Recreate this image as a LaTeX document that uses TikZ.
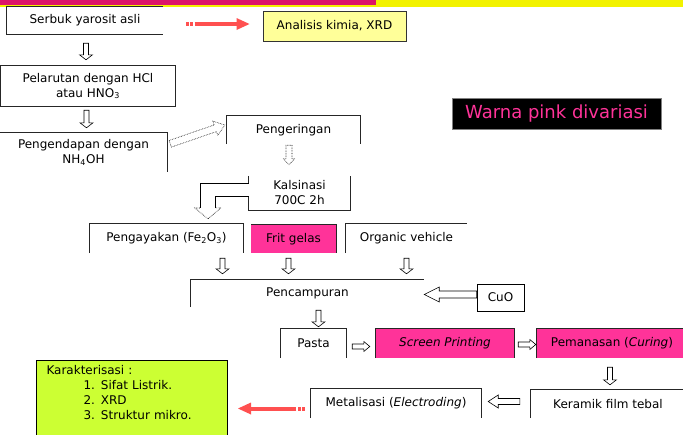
\documentclass[tikz,border=0pt]{standalone}
\usepackage{fontspec}
\setmainfont{DejaVu Sans}
\usetikzlibrary{calc,arrows.meta}
\definecolor{bandmag}{HTML}{DC1469}
\definecolor{bandyel}{HTML}{F2F200}
\definecolor{pinkbox}{HTML}{FF3399}
\definecolor{paleyel}{HTML}{FFFF99}
\definecolor{limebox}{HTML}{CCFF33}
\definecolor{redarr}{HTML}{FF5050}

\tikzset{
  arrshaft/.store in=\hsw, arrhead/.store in=\hhw, arrlen/.store in=\hhl,
  arrshaft=2.5, arrhead=6.5, arrlen=5,
}
% hollow block arrow between two points
\newcommand\hollowarrow[3][]{%
  \draw[draw=black, fill=white, line width=0.6pt, #1]
    let \p1=#2, \p2=#3, \n1={atan2(\y2-\y1,\x2-\x1)}, \n2={veclen(\x2-\x1,\y2-\y1)} in
    [shift={(\p1)}, rotate=\n1]
    (0,-\hsw) -- (\n2-\hhl,-\hsw) -- (\n2-\hhl,-\hhw) -- (\n2,0)
    -- (\n2-\hhl,\hhw) -- (\n2-\hhl,\hsw) -- (0,\hsw) -- cycle;}

\begin{document}
\begin{tikzpicture}[x=1pt,y=-1pt,
  lbl/.style={inner sep=0pt, align=center, font=\fontsize{12}{15}\selectfont},
  rim/.style={line width=0.8pt, black!85},
  redarrow/.style={redarr, line width=4pt,
    dash pattern=on 2.5pt off 1.5pt on 2.5pt off 2pt on 300pt off 1pt,
    -{Triangle[length=13pt,width=12pt,line width=0pt]}}]
  \useasboundingbox (0,0) rectangle (683,434);
  \fill[bandyel] (0,0) rectangle (683,6.5);
  \fill[bandmag] (0,0) rectangle (376,4.5);

  \node[lbl, minimum width=156, minimum height=27] (serbuk) at (85,20.5) {Serbuk yarosit asli};
  \node[lbl, draw=black!80, fill=paleyel, line width=1pt, minimum width=143, minimum height=30] (analisis) at (334.5,26) {Analisis kimia, XRD};
  \node[lbl, minimum width=175, minimum height=40] (pelarutan) at (88,86) {Pelarutan dengan HCl\\atau HNO\textsubscript{3}};
  \node[lbl, minimum width=167, minimum height=39] (pengendapan) at (83.5,152.5) {Pengendapan dengan\\NH\textsubscript{4}OH};
  \node[lbl, minimum width=133, minimum height=28] (pengeringan) at (293.5,130) {Pengeringan};
  \node[lbl, minimum width=101, minimum height=34] (kalsinasi) at (299.5,193) {Kalsinasi\\700C 2h};
  \node[lbl, minimum width=153, minimum height=29] (pengayakan) at (166.5,238.5) {Pengayakan (Fe\textsubscript{2}O\textsubscript{3})};
  \node[lbl, fill=pinkbox, minimum width=85, minimum height=28] (frit) at (293.5,239) {Frit gelas};
  \node[lbl, minimum width=121, minimum height=29] (organic) at (406.5,238.5) {Organic vehicle};
  \node[lbl, minimum width=233, minimum height=27] (pencampuran) at (307.5,293.5) {Pencampuran};
  \node[lbl, draw, line width=0.8pt, minimum width=47, minimum height=27] (cuo) at (500.5,297.5) {CuO};
  \node[lbl, minimum width=65, minimum height=29] (pasta) at (313.5,343.5) {Pasta};
  \node[lbl, fill=pinkbox, minimum width=138, minimum height=29] (screen) at (445,343.5) {\textit{Screen Printing}};
  \node[lbl, fill=pinkbox, minimum width=150, minimum height=29] (pemanasan) at (612,343.5) {Pemanasan (\textit{Curing})};
  \node[lbl, minimum width=154, minimum height=28] (keramik) at (608,404) {Keramik film tebal};
  \node[lbl, minimum width=170, minimum height=29] (metalisasi) at (396,403.5) {Metalisasi (\textit{Electroding})};
  \node[lbl, draw=black, line width=1pt, fill=limebox, anchor=north west, inner xsep=10pt, inner ysep=5pt,
    text width=171pt, align=left, text depth=80pt] (karakterisasi) at (36,360)
    {Karakterisasi :\\\hspace*{37pt}1. Sifat Listrik.\\\hspace*{37pt}2. XRD\\\hspace*{37pt}3. Struktur mikro.};
  \node[lbl, draw=black!50, line width=1pt, fill=black, text=pinkbox, font=\fontsize{18}{20}\selectfont,
    minimum width=209, minimum height=31] (warna) at (556.5,113.5) {Warna pink divariasi};

  % visible box edges
  \draw[rim] (serbuk.north east) -- (serbuk.north west) -- (serbuk.south west) -- (serbuk.south east);
  \draw[rim] (pelarutan.south west) rectangle (pelarutan.north east);
  \draw[rim] (pengendapan.north west) -- (pengendapan.north east) -- (pengendapan.south east);
  \draw[rim] (pengeringan.south west) |- (pengeringan.north east) -- (pengeringan.south east);
  \draw[rim] (kalsinasi.north west) |- (kalsinasi.south east) -- (kalsinasi.north east);
  \draw[rim] (pengayakan.south west) |- (pengayakan.north east) -- (pengayakan.south east);
  \draw[rim] (frit.north west) -- (frit.north east) -- (frit.south east);
  \draw[rim] (organic.south west) |- (organic.north east);
  \draw[rim] (pencampuran.south west) |- (pencampuran.north east);
  \draw[rim] (pasta.south west) |- (pasta.north east) -- (pasta.south east);
  \draw[rim] (screen.south west) |- (screen.north east) -- (screen.south east);
  \draw[rim] (pemanasan.south west) |- (pemanasan.north east);
  \draw[rim] (keramik.south west) |- (keramik.north east);
  \draw[rim] (metalisasi.south west) |- (metalisasi.north east) -- (metalisasi.south east);

  \draw[redarrow] ($(serbuk.east)+(23,3.5)$) -- ($(analisis.west)+(-13,-2)$);
  \hollowarrow{($(serbuk.south)+(1,9)$)}{($(pelarutan.north)+(-2,-6)$)}
  \hollowarrow{($(pelarutan.south)+(-1.5,4)$)}{($(pengendapan.north)+(3,-5)$)}
  \hollowarrow[densely dotted, arrshaft=3.5, arrhead=7.5, arrlen=10]{($(pengendapan.north east)+(3,11)$)}{($(pengeringan.west)+(-2,-5)$)}
  \hollowarrow[densely dotted, arrshaft=3, arrhead=5.5, arrlen=6]{($(pengeringan.south)+(-4.5,1)$)}{($(kalsinasi.north)+(-10.5,-11)$)}
  % bent arrow: solid shaft, dotted head
  \fill[white] ($(kalsinasi.west)+(0,-10)$) -- ++(-49,0) -- ++(0,25) -- ++(-5,0)
    -- ($(pengayakan.north)+(41.5,-5)$) -- ++(13,-11) -- ++(-6,0) -- ++(0,-12) -- ($(kalsinasi.west)+(0,3)$) -- cycle;
  \draw[line width=0.6pt] ($(kalsinasi.west)+(0,-10)$) -- ++(-49,0) -- ++(0,25);
  \draw[line width=0.6pt] ($(kalsinasi.west)+(0,3)$) -- ++(-34,0) -- ++(0,12);
  \draw[line width=0.6pt, densely dotted] ($(kalsinasi.west)+(-49,15)$) -- ++(-5,0)
    -- ($(pengayakan.north)+(41.5,-5)$) -- ++(13,-11) -- ++(-6,0);
  \hollowarrow{($(pengayakan.south)+(56,5)$)}{($(pencampuran.north)+(-85,-6)$)}
  \hollowarrow{($(frit.south)+(-5,5)$)}{($(pencampuran.north)+(-19,-6)$)}
  \hollowarrow{($(organic.south)+(0,5)$)}{($(pencampuran.north)+(99,-6)$)}
  \hollowarrow[arrshaft=3.5, arrhead=7.5, arrlen=15]{($(cuo.west)+(0,-3)$)}{($(pencampuran.east)+(0,1)$)}
  \hollowarrow{($(pencampuran.south)+(11,3)$)}{($(pasta.north)+(5,-2)$)}
  \hollowarrow[arrhead=5, arrlen=6]{($(pasta.east)+(6,3)$)}{($(screen.west)+(-6,3)$)}
  \hollowarrow[arrhead=5, arrlen=6]{($(screen.east)+(4,1)$)}{($(pemanasan.west)+(-1,1)$)}
  \hollowarrow{($(pemanasan.south)+(-2,9)$)}{($(keramik.north)+(2,-5)$)}
  \hollowarrow[arrshaft=3, arrhead=6.5, arrlen=10]{($(keramik.west)+(-11,-2.5)$)}{($(metalisasi.east)+(7,-2)$)}
  \draw[redarrow] ($(metalisasi.west)+(-6,5)$) -- ($(karakterisasi.north east)+(10,48.5)$);
\end{tikzpicture}
\end{document}
